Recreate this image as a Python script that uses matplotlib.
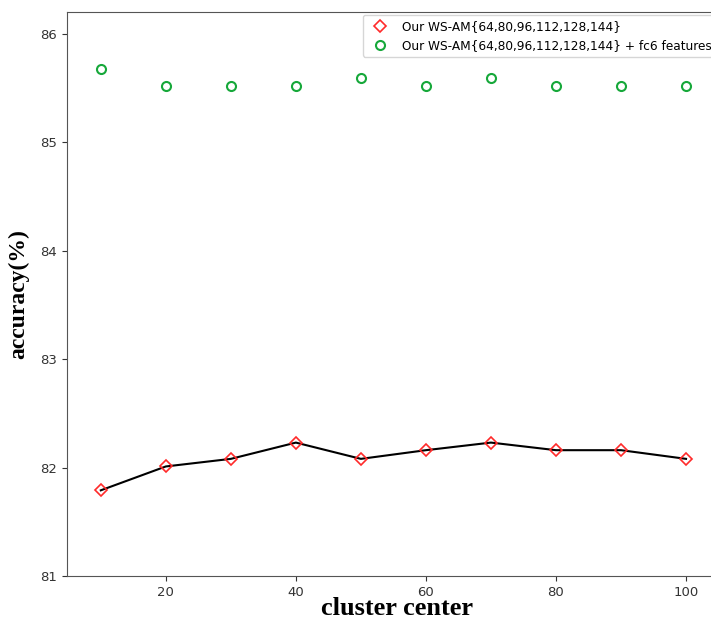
import matplotlib.pyplot as plt

# cluster center values
centers = [10, 20, 30, 40, 50, 60, 70, 80, 90, 100]
acc_wsam = [81.79, 82.01, 82.08, 82.23, 82.08, 82.16, 82.23, 82.16, 82.16, 82.08]
acc_wsam_fc6 = [85.67, 85.52, 85.52, 85.52, 85.59, 85.52, 85.59, 85.52, 85.52, 85.52]

label_a = 'Our WS-AM{64,80,96,112,128,144}'
label_b = 'Our WS-AM{64,80,96,112,128,144} + fc6 features'

fig = plt.figure(figsize=(7.11, 6.19), dpi=100)
# axes run slightly past the right edge, like the cropped original
ax = fig.add_axes([67 / 711, 43 / 619, 660 / 711, 564 / 619])

ax.plot(centers, acc_wsam, color='black', lw=1.5, zorder=2)
ax.plot(centers, acc_wsam, ls='none', marker='D', ms=6.5, mfc='none',
        mec='#ff2a2a', mew=1.2, label=label_a, zorder=3)
ax.plot(centers, acc_wsam_fc6, ls='none', marker='o', ms=6.5, mfc='none',
        mec='#16a83a', mew=1.5, label=label_b, zorder=3)

ax.set_xlim(4.8, 106.3)
ax.set_ylim(81, 86.2)
ax.set_xticks([20, 40, 60, 80, 100])
ax.set_yticks([81, 82, 83, 84, 85, 86])
ax.tick_params(labelsize=9.5, colors='#333333')
for s in ax.spines.values():
    s.set_color('#555555')
ax.spines['right'].set_visible(False)

ax.set_xlabel('cluster center', fontsize=19, fontweight='bold',
              family='Liberation Serif', labelpad=-1)
ax.set_ylabel('accuracy(%)', fontsize=17, fontweight='bold',
              family='Liberation Serif', labelpad=8)

ax.legend(loc='upper left', bbox_to_anchor=(363 / 711, 1 - 15 / 619),
          bbox_transform=fig.transFigure, fontsize=8.7, frameon=True,
          borderaxespad=0, handletextpad=0.8)

fig.savefig('out.png', dpi=100)
